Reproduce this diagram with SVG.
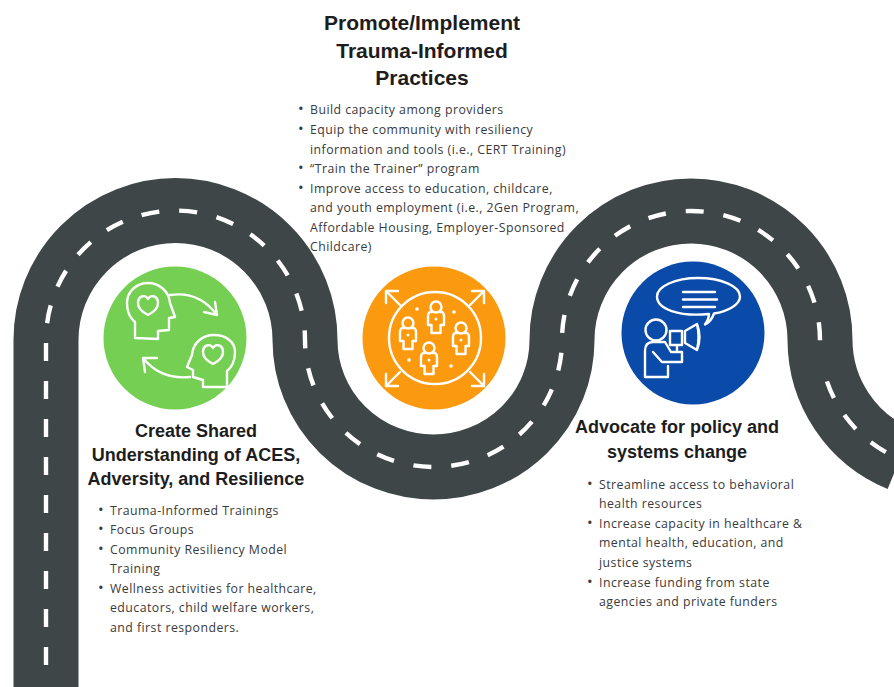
<svg xmlns="http://www.w3.org/2000/svg" width="894" height="687" viewBox="0 0 894 687">
<style>
text{font-family:"Open Sans","Liberation Sans",sans-serif}
.h{font-family:"Liberation Sans",Arial,sans-serif;font-weight:700;font-size:18px;fill:#1d1d1d;text-anchor:middle}
.h2{font-size:21px}
.b{font-size:12.3px;letter-spacing:.46px;fill:#3a3a3a}
.d{font-size:15px}
.i{fill:none;stroke:#fff;stroke-width:2.4;stroke-linejoin:round;stroke-linecap:round}
</style>
<defs>
<g id="person"><circle class="i" cx="0" cy="6" r="5.500"/><path class="i" d="M-4 11h-2q-2 1-2 4v9h3.500v8h9v-8h3.500v-9q0-3-2-4h-2"/><circle cx="0" cy="18" r="1.500" fill="#fff"/></g>
<path id="road-line" d="M46 687V340A129.500 129.500 0 0 1 305 340A128.500 127 0 0 0 562 340A129 129 0 0 1 820 340A129 129 0 0 0 900 459"/>
</defs>
<rect width="894" height="687" fill="#fff"/>
<g id="connectors">
<use href="#road-line" fill="none" stroke="#3f4648" stroke-width="65"/>
<use href="#road-line" fill="none" stroke="#fff" stroke-width="4.400" stroke-dasharray="0 22 18 20 18 20 18 20 18 20 18 20 18 20 18 20 18 20 18 20 18 20 18 20 18 20 18 20 18 20 18 20 18 20 18 20 18 20 18 20 18 20 18 20 18 20 18 20 18 20 18 20 18 20 18 20 18 20 18 20 18 20 18 20 18 20 18 20 18 20 18 20 18 20 18 20 18 20 18 20 18 20 18 20"/>
</g>
<g id="node-understanding">
<circle cx="175" cy="338" r="71.500" fill="#74cf52"/>
<path class="i" d="M135 338v-16c-5-4-8-11-8-19 0-12 10-20 21-20s21 8 22 20l5 14-6 1v12l-11 1v8z"/>
<path class="i" d="M148 315c-6-3-10-7-10-12 0-7 7-9 10-4 3-5 10-3 10 4 0 5-4 9-10 12z"/>
<path class="i" d="M170 295c20-3 35 4 47 20M204 312l13 3 -2-13"/>
<path class="i" d="M227 387v-16c5-4 8-11 8-19 0-10-9-17-21-17s-21 8-22 20l-5 12 6 3v7l10 3v7z"/>
<path class="i" d="M213 364c-6-3-10-7-10-12 0-7 7-9 10-4 3-5 10-3 10 4 0 5-4 9-10 12z"/>
<path class="i" d="M190 377c-20 2-35-4-47-19M157 358h-14l2 14"/>
</g>
<g id="node-practices">
<circle cx="434" cy="338" r="71.500" fill="#fb9a0e"/>
<circle class="i" cx="435" cy="338" r="46"/>
<path class="i" d="M400 305l-14-14M386 303v-12h12M470 305l14-14M472 291h12v12M400 372l-14 14M386 374v12h12M470 372l14 14M472 386h12v-12"/>
<use href="#person" x="436" y="301"/>
<use href="#person" x="408" y="317"/>
<use href="#person" x="461" y="322"/>
<use href="#person" x="429" y="342"/>
<circle cx="417" cy="309" r="1.800" fill="#fff"/><circle cx="454" cy="312" r="1.800" fill="#fff"/><circle cx="409" cy="360" r="1.800" fill="#fff"/><circle cx="451" cy="366" r="1.800" fill="#fff"/>
</g>
<g id="node-advocate">
<circle cx="693" cy="333" r="71.500" fill="#0a4aa8"/>
<path class="i" d="M709 314c-30 3-52-5-52-17.500 0-10 18-18.500 41-18.500s42 8 42 18.500c0 8-12 15-26 17-2 6-5 9-9 11 2-3 4-7 4-10.500z"/>
<path class="i" d="M683 292h32M683 299.500h34M683 307h32"/>
<circle class="i" cx="656" cy="330" r="10.500"/>
<path class="i" d="M645 377v-26c0-6 3-9 8-9h12l6 10h11v10h-20l-9-10M668 377v-11M645 377h23M670 331h12v14h-12zM685 331l12-7q3 13 0 26l-12-7zM697 324q5 13 0 26M677 345v6"/>
</g>
<g id="heading-practices">
<text class="h h2" x="422" y="30">Promote/Implement</text>
<text class="h h2" x="422" y="58">Trauma-Informed</text>
<text class="h h2" x="422" y="85">Practices</text>
<text class="b" x="298" y="114"><tspan class="d">•</tspan><tspan x="310">Build capacity among providers</tspan></text>
<text class="b" x="298" y="134"><tspan class="d">•</tspan><tspan x="310">Equip the community with resiliency</tspan></text>
<text class="b" x="310" y="154">information and tools (i.e., CERT Training)</text>
<text class="b" x="298" y="173"><tspan class="d">•</tspan><tspan x="310">“Train the Trainer” program</tspan></text>
<text class="b" x="298" y="193"><tspan class="d">•</tspan><tspan x="310">Improve access to education, childcare,</tspan></text>
<text class="b" x="310" y="212">and youth employment (i.e., 2Gen Program,</text>
<text class="b" x="310" y="232">Affordable Housing, Employer-Sponsored</text>
<text class="b" x="310" y="251">Childcare)</text>
</g>
<g id="heading-understanding">
<text class="h" x="196" y="437">Create Shared</text>
<text class="h" x="196" y="461">Understanding of ACES,</text>
<text class="h" x="196" y="485">Adversity, and Resilience</text>
<text class="b" x="98" y="515"><tspan class="d">•</tspan><tspan x="110">Trauma-Informed Trainings</tspan></text>
<text class="b" x="98" y="534"><tspan class="d">•</tspan><tspan x="110">Focus Groups</tspan></text>
<text class="b" x="98" y="554"><tspan class="d">•</tspan><tspan x="110">Community Resiliency Model</tspan></text>
<text class="b" x="110" y="573">Training</text>
<text class="b" x="98" y="593"><tspan class="d">•</tspan><tspan x="110">Wellness activities for healthcare,</tspan></text>
<text class="b" x="110" y="612">educators, child welfare workers,</text>
<text class="b" x="110" y="632">and first responders.</text>
</g>
<g id="heading-advocate">
<text class="h" x="677" y="433">Advocate for policy and</text>
<text class="h" x="677" y="458">systems change</text>
<text class="b" x="587" y="489"><tspan class="d">•</tspan><tspan x="599">Streamline access to behavioral</tspan></text>
<text class="b" x="599" y="508">health resources</text>
<text class="b" x="587" y="528"><tspan class="d">•</tspan><tspan x="599">Increase capacity in healthcare &amp;</tspan></text>
<text class="b" x="599" y="547">mental health, education, and</text>
<text class="b" x="599" y="567">justice systems</text>
<text class="b" x="587" y="587"><tspan class="d">•</tspan><tspan x="599">Increase funding from state</tspan></text>
<text class="b" x="599" y="606">agencies and private funders</text>
</g>
</svg>
